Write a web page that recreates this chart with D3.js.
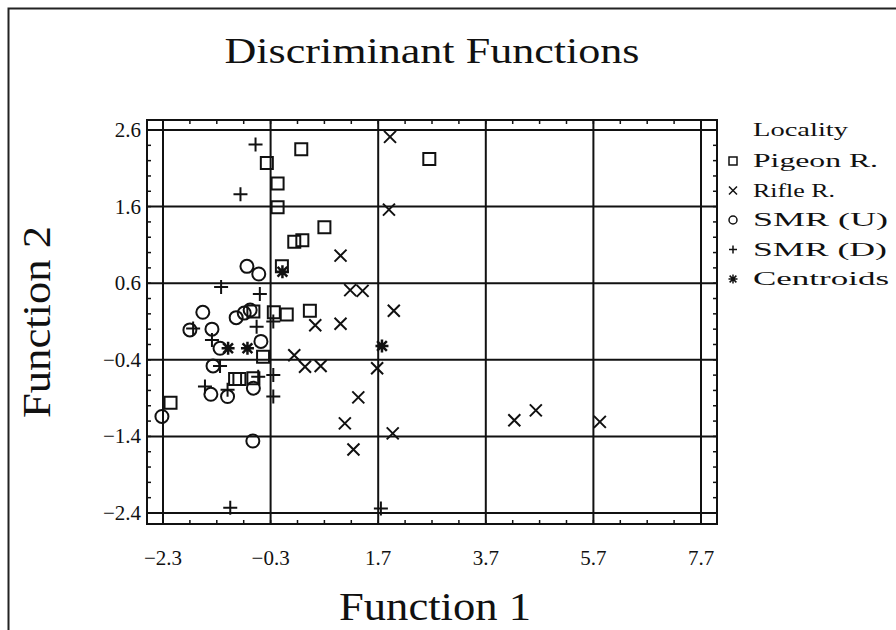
<!DOCTYPE html>
<html lang="en">
<head>
<meta charset="UTF-8">
<title>Discriminant Functions</title>
<style>
    body { margin:0; background:#fff; }
    svg text { font-family:"Liberation Serif","Times New Roman",serif; fill:#111; }
</style>
</head>
<body>
<script src="https://cdn.jsdelivr.net/npm/d3@7"></script>
<script>
    // tick labels
    var xTicks = [-2.3, -0.3, 1.7, 3.7, 5.7, 7.7];
    var yTicks = [2.6, 1.6, 0.6, -0.4, -1.4, -2.4];

    // Pigeon R.
    var pigeonX = [0.27, -0.37, -0.17, -0.17, 0.70, 0.14, 0.29, -0.09, -0.62, -0.24, 0.00, 0.43, -0.44, -0.96, -0.88, -0.62, -2.16, 2.65];
    var pigeonY = [2.35, 2.17, 1.90, 1.59, 1.33, 1.14, 1.16, 0.82, 0.23, 0.22, 0.19, 0.24, -0.36, -0.65, -0.65, -0.64, -0.96, 2.22];
    // Rifle R.
    var rifleX = [1.92, 1.90, 1.00, 1.18, 1.41, 1.99, 1.00, 0.53, 0.14, 0.34, 0.63, 1.68, 1.33, 1.08, 1.97, 1.24, 4.23, 4.63, 5.82];
    var rifleY = [2.51, 1.56, 0.96, 0.51, 0.50, 0.24, 0.07, 0.05, -0.34, -0.49, -0.48, -0.51, -0.89, -1.23, -1.36, -1.57, -1.19, -1.06, -1.21];
    // SMR (U)
    var smrUX = [-0.74, -0.52, -1.56, -0.94, -0.79, -0.68, -1.80, -1.39, -1.24, -0.48, -1.37, -0.62, -1.41, -1.10, -2.32, -0.63];
    var smrUY = [0.82, 0.72, 0.22, 0.15, 0.21, 0.25, -0.01, 0.00, -0.25, -0.16, -0.48, -0.77, -0.85, -0.88, -1.14, -1.46];
    // SMR (D)
    var smrDX = [-0.58, -0.86, -1.22, -0.50, -1.74, -0.56, -0.25, -1.39, -1.24, -0.25, -0.53, -1.52, -1.10, -0.25, -1.05, 1.75];
    var smrDY = [2.41, 1.76, 0.55, 0.46, 0.01, 0.03, 0.10, -0.14, -0.48, -0.60, -0.62, -0.75, -0.79, -0.88, -2.33, -2.34];
    // Centroids
    var centX = [-0.08, -1.09, -0.73, 1.77];
    var centY = [0.75, -0.25, -0.25, -0.22];

    var groups = [
        {name:"Pigeon R.", shape:"square", xs:pigeonX, ys:pigeonY, len:125},
        {name:"Rifle R.", shape:"times", xs:rifleX, ys:rifleY, len:82},
        {name:"SMR (U)", shape:"circle", xs:smrUX, ys:smrUY, len:135},
        {name:"SMR (D)", shape:"plus", xs:smrDX, ys:smrDY, len:134},
        {name:"Centroids", shape:"star", xs:centX, ys:centY, len:136}
    ];

    var w = 896, h = 630;
    var frame = {left:147, right:717, top:120, bottom:524};

    var svg = d3.select("body").append("svg").attr("width", w).attr("height", h);
    svg.append("rect").attr("width", w).attr("height", h).attr("fill", "#fff");

    // outer border of the picture
    svg.append("path").attr("d", "M8.5," + h + "V8.5H" + w)
        .attr("fill", "none").attr("stroke", "#222").attr("stroke-width", 2);

    var x = d3.scaleLinear().domain([-2.3, 7.7]).range([163, 701]);
    var y = d3.scaleLinear().domain([-2.4, 2.6]).range([513, 130]);

    // marker path, r = half size
    function marker(shape, r) {
        var p = d3.path();
        if (shape == "square") {
            p.rect(-r, -r, 2 * r, 2 * r);
        } else if (shape == "circle") {
            p.arc(0, 0, r, 0, 2 * Math.PI);
        } else if (shape == "times") {
            p.moveTo(-r, -r); p.lineTo(r, r);
            p.moveTo(-r, r); p.lineTo(r, -r);
        } else if (shape == "plus") {
            p.moveTo(-r, 0); p.lineTo(r, 0);
            p.moveTo(0, -r); p.lineTo(0, r);
        } else {
            var d = r * 0.75;
            p.moveTo(-r, 0); p.lineTo(r, 0);
            p.moveTo(0, -r); p.lineTo(0, r);
            p.moveTo(-d, -d); p.lineTo(d, d);
            p.moveTo(-d, d); p.lineTo(d, -d);
        }
        return p.toString();
    }
    var markerSize = {square:6, circle:6.5, times:6, plus:7, star:6.5};

    // plot frame
    svg.append("rect")
        .attr("x", frame.left).attr("y", frame.top)
        .attr("width", frame.right - frame.left).attr("height", frame.bottom - frame.top)
        .attr("fill", "none").attr("stroke", "#111").attr("stroke-width", 2);

    // minor ticks on the frame, pointing inwards
    var minorX = d3.range(0, 21).map(function (i) { return -2.3 + i * 0.5; });
    var minorY = d3.range(0, 26).map(function (i) { return -2.4 + i * 0.2; });
    var ticks = svg.append("g").attr("stroke", "#111").attr("stroke-width", 1.5);
    ticks.selectAll(".tt").data(minorX).enter().append("line")
        .attr("x1", function (d) { return x(d); }).attr("x2", function (d) { return x(d); })
        .attr("y1", frame.top).attr("y2", frame.top + 4);
    ticks.selectAll(".tb").data(minorX).enter().append("line")
        .attr("x1", function (d) { return x(d); }).attr("x2", function (d) { return x(d); })
        .attr("y1", frame.bottom).attr("y2", frame.bottom - 4);
    ticks.selectAll(".tl").data(minorY).enter().append("line")
        .attr("y1", function (d) { return y(d); }).attr("y2", function (d) { return y(d); })
        .attr("x1", frame.left).attr("x2", frame.left + 4);
    ticks.selectAll(".tr").data(minorY).enter().append("line")
        .attr("y1", function (d) { return y(d); }).attr("y2", function (d) { return y(d); })
        .attr("x1", frame.right).attr("x2", frame.right - 4);

    // grid lines
    var grid = svg.append("g").attr("stroke", "#111").attr("stroke-width", 2);
    grid.selectAll(".gx").data(xTicks).enter().append("line")
        .attr("x1", function (d) { return x(d); }).attr("x2", function (d) { return x(d); })
        .attr("y1", frame.top).attr("y2", frame.bottom);
    grid.selectAll(".gy").data(yTicks).enter().append("line")
        .attr("y1", function (d) { return y(d); }).attr("y2", function (d) { return y(d); })
        .attr("x1", frame.left).attr("x2", frame.right);

    // tick labels
    svg.selectAll(".xl").data(xTicks).enter().append("text")
        .attr("x", function (d) { return x(d); }).attr("y", 565)
        .attr("text-anchor", "middle").attr("font-size", 21)
        .text(function (d) { return d3.format(".1f")(d); });
    svg.selectAll(".yl").data(yTicks).enter().append("text")
        .attr("x", 141).attr("y", function (d) { return y(d) + 7; })
        .attr("text-anchor", "end").attr("font-size", 21)
        .text(function (d) { return d3.format(".1f")(d); });

    // titles
    svg.append("text").attr("x", 432).attr("y", 63)
        .attr("text-anchor", "middle").attr("font-size", 36)
        .attr("textLength", 415).attr("lengthAdjust", "spacingAndGlyphs")
        .text("Discriminant Functions");
    svg.append("text").attr("x", 435).attr("y", 620)
        .attr("text-anchor", "middle").attr("font-size", 39)
        .attr("textLength", 192).attr("lengthAdjust", "spacingAndGlyphs")
        .text("Function 1");
    svg.append("text")
        .attr("transform", "translate(50,322) rotate(-90)")
        .attr("text-anchor", "middle").attr("font-size", 39)
        .attr("textLength", 192).attr("lengthAdjust", "spacingAndGlyphs")
        .text("Function 2");

    // points
    groups.forEach(function (g) {
        svg.append("g").selectAll("path")
            .data(g.xs.map(function (v, i) { return [v, g.ys[i]]; }))
            .enter().append("path")
            .attr("transform", function (d) { return "translate(" + x(d[0]) + "," + y(d[1]) + ")"; })
            .attr("d", marker(g.shape, markerSize[g.shape]))
            .attr("fill", "none").attr("stroke", "#111")
            .attr("stroke-width", g.shape == "star" ? 2.5 : 2);
    });

    // legend
    var legend = svg.append("g").attr("transform", "translate(733,0)");
    legend.append("text").attr("x", 20).attr("y", 136).attr("font-size", 19)
        .attr("textLength", 95).attr("lengthAdjust", "spacingAndGlyphs").text("Locality");
    var rows = legend.selectAll(".row").data(groups).enter().append("g")
        .attr("transform", function (d, i) { return "translate(0," + (161 + i * 29.5) + ")"; });
    rows.append("path")
        .attr("d", function (d) { return marker(d.shape, d.shape == "star" ? 4.5 : 4); })
        .attr("fill", "none").attr("stroke", "#111").attr("stroke-width", 1.5);
    rows.append("text").attr("x", 20).attr("y", 6).attr("font-size", 19)
        .attr("textLength", function (d) { return d.len; }).attr("lengthAdjust", "spacingAndGlyphs")
        .text(function (d) { return d.name; });
</script>
</body>
</html>
